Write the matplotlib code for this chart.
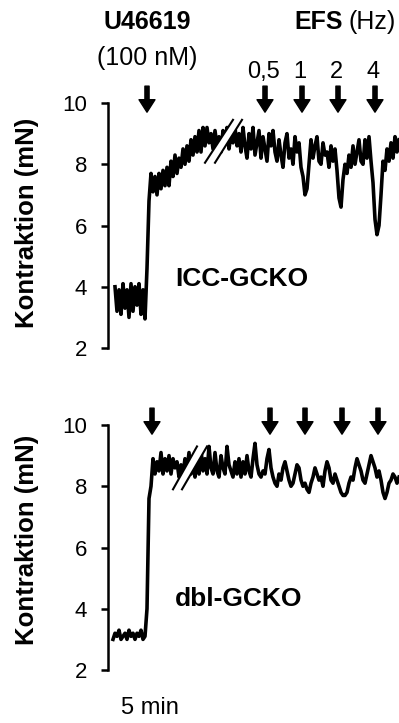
import numpy as np
import matplotlib
matplotlib.use("Agg")
import matplotlib.pyplot as plt
from matplotlib.patches import Polygon

plt.rcParams["font.family"] = ["Liberation Sans", "DejaVu Sans"]

# Force traces (mN), sampled every 2 time units
icc_start = 7
icc_force = [
    4.0, 3.2, 3.9, 3.1, 4.1, 3.3, 3.9, 3.0, 4.1, 3.2, 4.0, 3.4, 4.1, 3.1, 3.9, 2.95,
    4.6, 6.8, 7.7,
    7.1, 7.6, 7.0, 7.7, 7.2, 7.8, 7.3,
    7.9, 7.3, 8.1, 7.6, 8.3, 7.7, 8.2, 7.9, 8.5, 8.0, 8.6, 8.1, 8.8, 8.3, 8.9, 8.4,
    9.1, 8.4, 9.2, 8.6, 9.2, 8.7, 9.0, 8.5,
    9.1, 8.6, 8.9, 8.4, 9.1, 8.7, 9.2, 8.5, 9.0, 8.7, 9.2, 8.6, 9.0,
    8.4, 9.2, 8.6, 8.2, 9.0, 8.5, 9.2, 8.3, 8.7, 9.1, 8.2, 8.9, 8.5, 8.1, 9.0, 8.6,
    9.1, 8.4, 8.1, 8.8, 8.3, 7.9, 8.7, 9.0, 8.2, 8.5, 8.0, 8.9, 8.4, 8.7, 7.9,
    7.6, 7.0, 7.2, 8.0, 8.8, 8.2, 8.6, 8.9, 8.1, 8.0, 8.7, 8.3, 8.4, 7.9, 8.6, 8.1, 8.5, 7.8,
    6.9, 6.6, 7.5, 8.0, 7.7, 8.3, 7.9, 8.6, 8.0, 8.4, 8.8, 8.1, 8.0, 8.8, 8.2, 8.9, 8.1, 7.4,
    6.2, 5.7, 6.0, 7.0, 8.1, 7.8, 8.5, 8.1, 8.7, 8.2, 8.9, 8.4, 8.8,
]

dbl_start = 5
dbl_force = [
    3.0, 3.2, 3.1, 3.3, 3.0, 3.1, 3.2, 3.0, 3.3, 3.1, 3.2, 3.0, 3.2, 3.1, 3.3, 3.0, 3.1,
    4.0, 7.6, 8.0, 8.9, 8.4, 8.8, 8.5, 9.1, 8.4, 8.9, 8.5, 9.0, 8.4, 8.9, 8.6, 8.8,
    8.3, 8.7, 8.4, 8.9, 8.5, 9.1, 8.4, 8.8, 8.3, 9.0, 8.4, 9.2, 8.5, 8.9, 8.4, 9.3,
    8.6, 8.4, 9.1, 8.5, 8.3, 9.0, 8.6, 8.4, 9.3, 8.7, 8.5, 8.3, 8.8, 8.4, 8.9,
    8.3, 8.8, 8.4, 9.0, 8.5, 8.3, 8.9, 9.4, 8.7, 8.4, 8.3, 8.5, 8.4, 8.9, 9.2, 8.6,
    8.3, 8.1, 8.0, 8.4, 8.2, 8.6, 8.8, 8.5, 8.2, 8.0, 8.1, 8.4, 8.7, 8.6, 8.2, 8.0,
    8.1, 7.9, 7.8, 8.1, 8.3, 8.6, 8.4, 8.2, 8.3, 8.0, 8.5, 8.8, 8.6, 8.2, 8.1, 8.4,
    8.2, 8.0, 7.8, 7.7, 7.7, 7.8, 8.1, 8.3, 8.2, 8.6, 8.9, 8.7, 8.5, 8.2, 8.1, 8.4,
    8.7, 9.0, 8.8, 8.6, 8.3, 8.5, 8.2, 7.8, 7.6, 7.8, 8.1, 8.2, 8.4, 8.3, 8.1, 8.3,
]

# Stimulus times (U46619 first, then EFS steps)
icc_arrows = [39, 157, 194, 230, 267]
dbl_arrows = [44, 162, 197, 234, 270]
efs_labels = ["0,5", "1", "2", "4"]

# Axis-break positions ((x0, y0), (x1, y1)) of the two slashes
icc_break = [((97, 8.05), (125, 9.45)), ((107, 8.05), (134, 9.45))]
dbl_break = [((65, 7.9), (89, 9.3)), ((74, 7.9), (99, 9.3))]

yticks = [2, 4, 6, 8, 10]

W, H = 399, 723
fig = plt.figure(figsize=(W / 100, H / 100), dpi=100)


def fx(px):
    return px / W


def fy(py):
    return 1 - py / H


def panel(top_px, bottom_px, start, force, arrows, brk):
    ax = fig.add_axes([fx(108), fy(bottom_px), 1 - fx(108), (bottom_px - top_px) / H])
    t = start + 2 * np.arange(len(force))
    ax.plot(t, force, color="black", lw=2.6, solid_joinstyle="round", zorder=2)
    ax.set_xlim(0, 291)
    ax.set_ylim(2, 10)
    ax.set_yticks(yticks)
    ax.set_yticklabels([str(v) for v in yticks], fontsize=16)
    ax.tick_params(axis="y", direction="out", length=5, width=1.8, pad=10)
    ax.set_xticks([])
    for s in ("top", "right", "bottom"):
        ax.spines[s].set_visible(False)
    ax.spines["left"].set_linewidth(1.8)
    # axis break: white gap between two slashes
    (a0, a1), (b0, b1) = brk
    ax.add_patch(Polygon([a0, a1, b1, b0], closed=True, facecolor="white",
                         edgecolor="none", zorder=3))
    for p0, p1 in brk:
        ax.plot([p0[0], p1[0]], [p0[1], p1[1]], color="black", lw=1.5, zorder=4)
    for x in arrows:
        ax.annotate("", xy=(x, 9.7), xytext=(x, 10.55),
                    arrowprops=dict(facecolor="black", edgecolor="black",
                                    width=3.0, headwidth=11.5, headlength=9,
                                    shrink=0),
                    annotation_clip=False)
    return ax


ax1 = panel(103, 348, icc_start, icc_force, icc_arrows, icc_break)
ax2 = panel(425, 670, dbl_start, dbl_force, dbl_arrows, dbl_break)

# Y labels
fig.text(fx(27), fy(223), "Kontraktion (mN)", rotation=90, ha="center",
         va="center", fontsize=18.5, fontweight="bold")
fig.text(fx(27), fy(540), "Kontraktion (mN)", rotation=90, ha="center",
         va="center", fontsize=18.5, fontweight="bold")

# Annotations
fig.text(fx(147), fy(22), "U46619", ha="center", va="center",
         fontsize=18, fontweight="bold")
fig.text(fx(147), fy(58), "(100 nM)", ha="center", va="center", fontsize=18)
fig.text(fx(343), fy(22), "EFS", ha="right", va="center",
         fontsize=18, fontweight="bold")
fig.text(fx(348), fy(22), "(Hz)", ha="left", va="center", fontsize=18)
for x, lab in zip(icc_arrows[1:], efs_labels):
    fig.text(fx(108 + x - 2), fy(72), lab, ha="center", va="center", fontsize=17)

fig.text(fx(175), fy(279), "ICC-GCKO", ha="left", va="center",
         fontsize=19, fontweight="bold")
fig.text(fx(175), fy(599), "dbl-GCKO", ha="left", va="center",
         fontsize=19, fontweight="bold")
fig.text(fx(150), fy(708), "5 min", ha="center", va="center", fontsize=17)

fig.savefig("out.png", dpi=100)
